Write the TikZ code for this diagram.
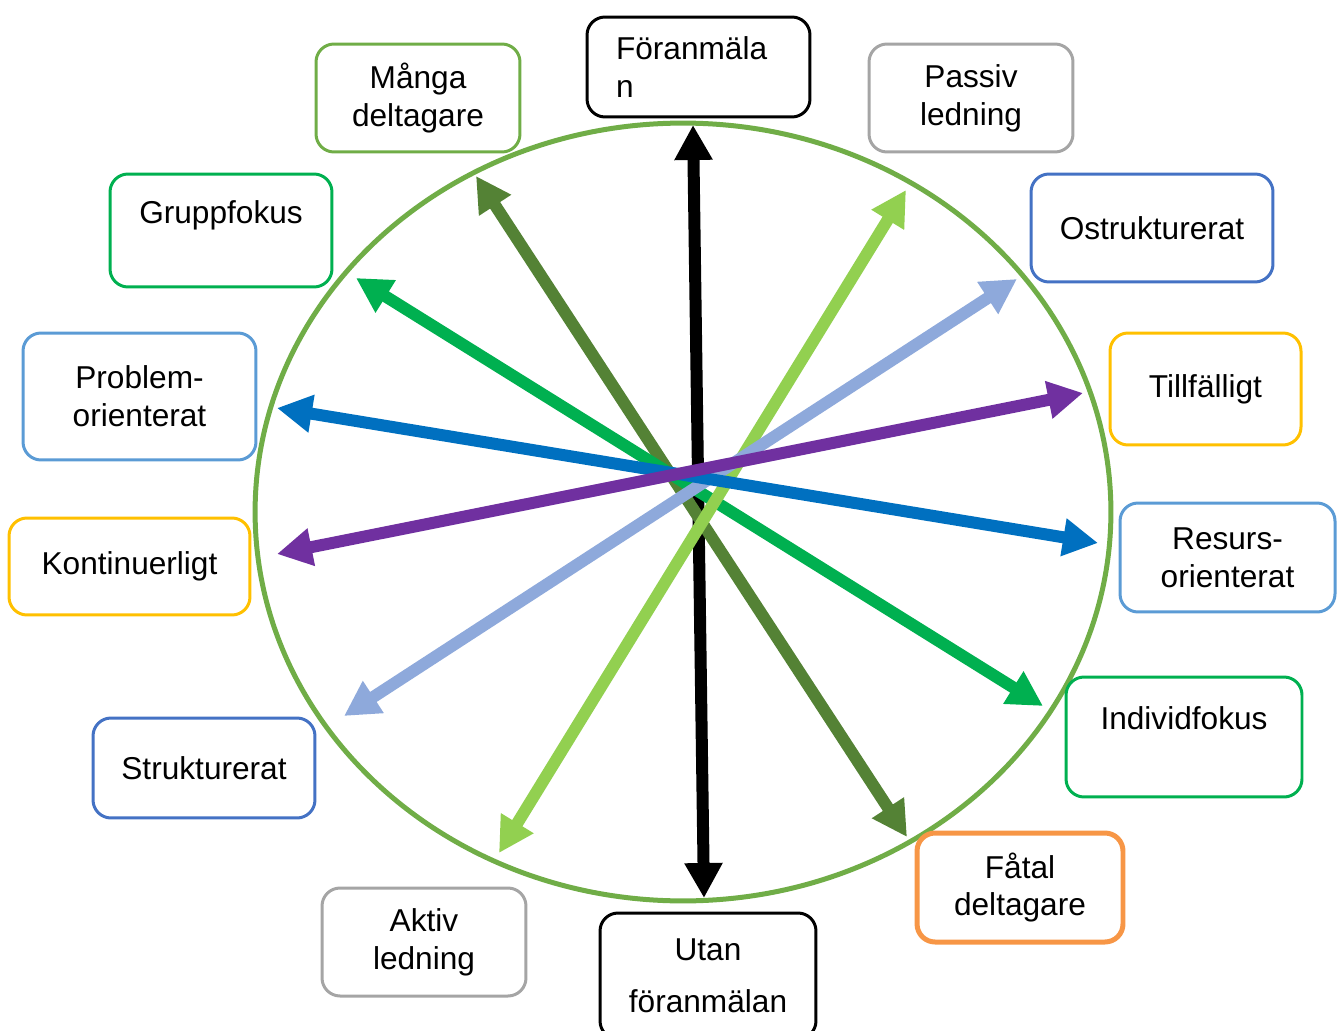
\documentclass[tikz,border=0pt]{standalone}
\usepackage{fontspec}
\setmainfont{Liberation Sans}
\usetikzlibrary{arrows.meta}
\definecolor{ringgreen}{HTML}{70AD47}
\definecolor{olivegreen}{HTML}{548235}
\definecolor{limegreen}{HTML}{92D050}
\definecolor{paleblue}{HTML}{8EA9DB}
\definecolor{brightgreen}{HTML}{00B050}
\definecolor{deepblue}{HTML}{0070C0}
\definecolor{violet}{HTML}{7030A0}
\definecolor{midblue}{HTML}{4472C4}
\definecolor{skyblue}{HTML}{5B9BD5}
\definecolor{gold}{HTML}{FFC000}
\definecolor{lightgray}{HTML}{A5A5A5}
\definecolor{orange}{HTML}{F79646}
\tikzset{
    pole/.style={draw, rounded corners=0.36cm, line width=0.06cm, align=center, inner sep=0pt,
        font=\fontsize{18}{21.5}\selectfont},
    twoway/.style={line width=0.24cm,
        {Triangle[length=0.7cm,width=0.72cm]}-{Triangle[length=0.7cm,width=0.72cm]}},
}
\begin{document}
\begin{tikzpicture}[x=0.02cm, y=-0.02cm]
        \useasboundingbox (0,0) rectangle (1344,1030);
        \draw[ringgreen, line width=0.1cm] (683,512) ellipse [x radius=8.56cm, y radius=7.78cm];
        % ends of the axes
        \coordinate (foranTip) at (693,125);
        \coordinate (utanTip) at (704,898);
        \coordinate (mangaTip) at (476,176);
        \coordinate (fatalTip) at (907,837);
        \coordinate (passivTip) at (906,190);
        \coordinate (aktivTip) at (499,853);
        \coordinate (ostrukTip) at (1017,279);
        \coordinate (strukTip) at (344,716);
        \coordinate (gruppTip) at (356,278);
        \coordinate (individTip) at (1043,706);
        \coordinate (problemTip) at (277,408);
        \coordinate (resursTip) at (1098,543);
        \coordinate (tillfTip) at (1083,393);
        \coordinate (kontTip) at (277,554);
        \foreach \a/\b/\c in {foranTip/utanTip/black, mangaTip/fatalTip/olivegreen,
            gruppTip/individTip/brightgreen, passivTip/aktivTip/limegreen,
            ostrukTip/strukTip/paleblue, problemTip/resursTip/deepblue, tillfTip/kontTip/violet} {
            \draw[twoway, \c] (\a) -- (\b);
        }
        % the poles
        \node[pole, draw=black, minimum width=4.46cm, minimum height=2cm, text width=3.3cm, align=left] (foranmalan) at (698.5,67) {Föranmäla\\n};
        \node[pole, draw=ringgreen, minimum width=4.08cm, minimum height=2.16cm] (manga) at (418,98) {Många\\deltagare};
        \node[pole, draw=lightgray, minimum width=4.08cm, minimum height=2.16cm] (passiv) at (971,98) {Passiv\\ledning};
        \node[pole, draw=brightgreen, minimum width=4.44cm, minimum height=2.26cm] (grupp) at (221,230.5) {Gruppfokus\\\mbox{}};
        \node[pole, draw=midblue, minimum width=4.84cm, minimum height=2.16cm] (ostruk) at (1152,228) {Ostrukturerat};
        \node[pole, draw=skyblue, minimum width=4.66cm, minimum height=2.54cm] (problem) at (139.5,396.5) {Problem-\\orienterat};
        \node[pole, draw=gold, minimum width=3.82cm, minimum height=2.24cm] (tillf) at (1205.5,389) {Tillfälligt};
        \node[pole, draw=gold, minimum width=4.82cm, minimum height=1.94cm] (kont) at (129.5,566.5) {Kontinuerligt};
        \node[pole, draw=skyblue, minimum width=4.3cm, minimum height=2.18cm] (resurs) at (1227.5,557.5) {Resurs-\\orienterat};
        \node[pole, draw=brightgreen, minimum width=4.72cm, minimum height=2.4cm] (individ) at (1184,737) {Individfokus\\\mbox{}};
        \node[pole, draw=midblue, minimum width=4.44cm, minimum height=2cm] (struk) at (204,768) {Strukturerat};
        \node[pole, draw=orange, line width=0.1cm, minimum width=4.12cm, minimum height=2.18cm] (fatal) at (1020,887.5) {Fåtal\\deltagare};
        \node[pole, draw=lightgray, minimum width=4.08cm, minimum height=2.16cm] (aktiv) at (424,942) {Aktiv\\ledning};
        \node[pole, draw=black, minimum width=4.32cm, minimum height=2.52cm] (utan) at (708,976) {Utan\\[8pt]föranmälan};
\end{tikzpicture}
\end{document}
